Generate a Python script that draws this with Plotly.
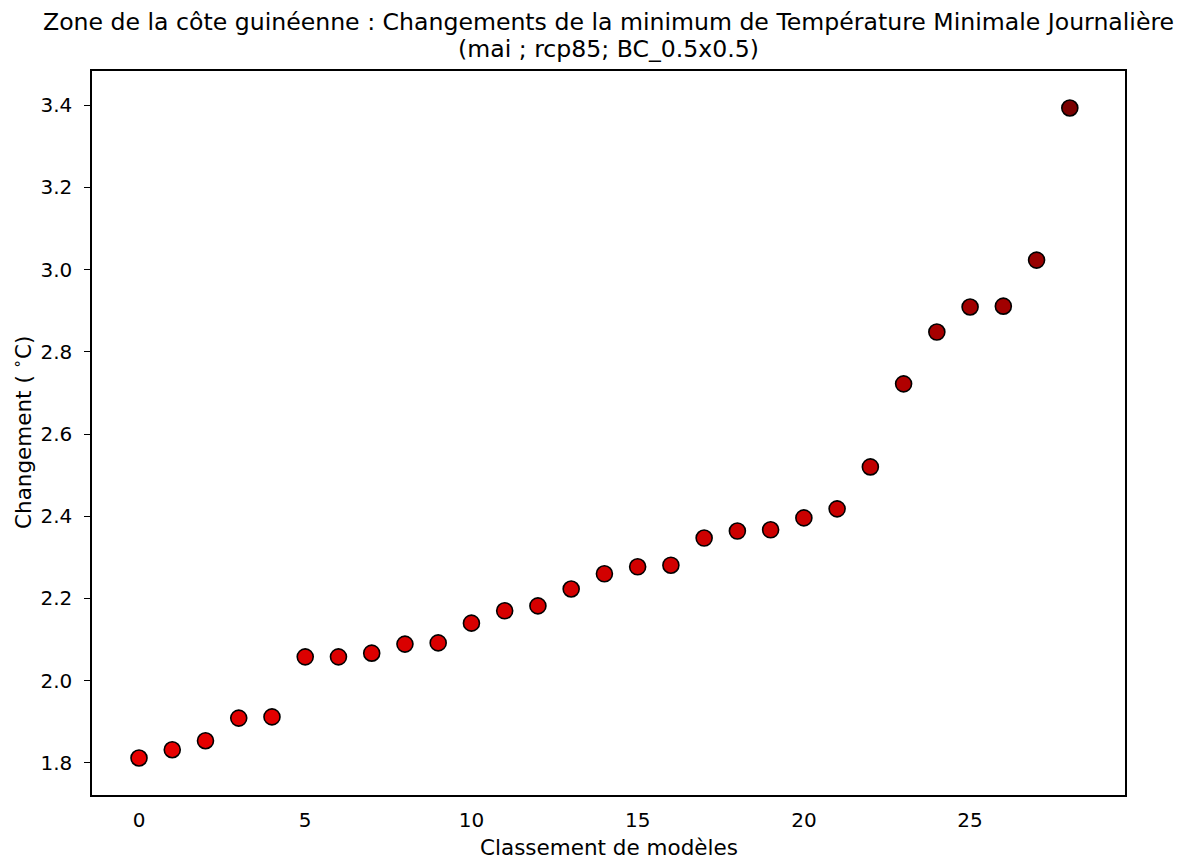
import plotly.graph_objects as go

ranks = list(range(29))
changes = [1.812, 1.832, 1.854, 1.909, 1.912, 2.058, 2.058, 2.067, 2.089, 2.092,
           2.140, 2.170, 2.182, 2.223, 2.260, 2.277, 2.281, 2.347, 2.364, 2.367,
           2.396, 2.418, 2.520, 2.722, 2.848, 2.909, 2.911, 3.023, 3.393]
y_ticks = [1.8, 2.0, 2.2, 2.4, 2.6, 2.8, 3.0, 3.2, 3.4]
x_ticks = [0, 5, 10, 15, 20, 25]

title_line1 = "Zone de la côte guinéenne : Changements de la minimum de Température Minimale Journalière"
title_line2 = "(mai ; rcp85; BC_0.5x0.5)"
x_title = "Classement de modèles"
y_title = "Changement ( <sup>∘</sup>C)"

font = "DejaVu Sans"
W, H = 1186, 859
ML, MR, MT, MB = 92, 61, 71, 64
plot_h = H - MT - MB
plot_w = W - ML - MR


def paper_y(px):
    return (H - MB - px) / plot_h


def paper_x(px):
    return (px - ML) / plot_w


fig = go.Figure()
fig.add_trace(go.Scatter(
    x=ranks, y=changes, mode="markers",
    marker=dict(size=16, color=changes,
                colorscale=[[0, "rgb(232,0,0)"], [0.35, "rgb(205,0,0)"],
                            [0.7, "rgb(160,0,0)"], [1, "rgb(122,0,0)"]],
                line=dict(color="black", width=1.6)),
    showlegend=False,
))

fig.update_layout(
    width=W, height=H,
    paper_bgcolor="white", plot_bgcolor="white",
    margin=dict(l=ML, r=MR, t=MT, b=MB, autoexpand=False),
    font=dict(family=font, size=20, color="black"),
)
fig.add_annotation(text=title_line1, xref="paper", yref="paper", x=0.5, y=paper_y(22),
                   xanchor="center", yanchor="middle", showarrow=False,
                   font=dict(family=font, size=23.6, color="black"))
fig.add_annotation(text=title_line2, xref="paper", yref="paper", x=0.5, y=paper_y(49),
                   xanchor="center", yanchor="middle", showarrow=False,
                   font=dict(family=font, size=23.6, color="black"))
fig.add_annotation(text=x_title, xref="paper", yref="paper", x=0.5, y=paper_y(847),
                   xanchor="center", yanchor="middle", showarrow=False,
                   font=dict(family=font, size=21.5, color="black"))
fig.add_annotation(text=y_title, xref="paper", yref="paper", x=paper_x(22), y=0.5,
                   xanchor="center", yanchor="middle", showarrow=False, textangle=-90,
                   font=dict(family=font, size=21.5, color="black"))

fig.update_xaxes(
    range=[-1.414, 29.66], tickvals=x_ticks, ticks="", showgrid=False, zeroline=False,
    showline=True, linecolor="black", linewidth=1.5, mirror=True, automargin=False,
    ticklabelstandoff=6,
    tickfont=dict(size=20),
)
fig.update_yaxes(
    range=[1.722, 3.483], tickvals=y_ticks, ticktext=[f"{v:.1f}" for v in y_ticks],
    ticks="outside", ticklen=6, tickwidth=1.2, tickcolor="black",
    showgrid=False, zeroline=False, automargin=False,
    showline=True, linecolor="black", linewidth=1.5, mirror=True,
    ticklabelstandoff=8,
    tickfont=dict(size=20),
)

fig.write_html("out.html", config={"displayModeBar": False},
               post_script="document.body.style.margin='0';")
